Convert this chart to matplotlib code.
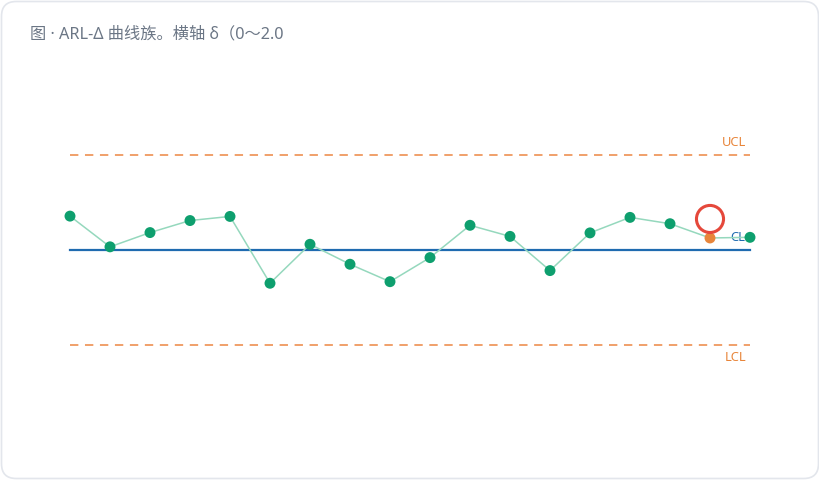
import matplotlib
matplotlib.use("Agg")
import matplotlib.pyplot as plt
from matplotlib.patches import FancyBboxPatch

plt.rcParams['font.family'] = ['Noto Sans', 'Noto Sans CJK SC', 'DejaVu Sans']

title = "图 · ARL-Δ 曲线族。横轴 δ（0～2.0"
values = [1.07, 0.10, 0.55, 0.93, 1.06, -1.05, 0.18, -0.45, -1.00, -0.24,
          0.78, 0.43, -0.65, 0.54, 1.03, 0.83, 0.38, 0.40]
cl, ucl, lcl = 0.0, 3.0, -3.0
flag_index = 16
limit_labels = ["UCL", "CL", "LCL"]

W, H = 820, 480
fig = plt.figure(figsize=(W / 100, H / 100), dpi=100)
fig.patch.set_facecolor("white")

card = FancyBboxPatch((1.5 / W, 1.5 / H), (W - 3) / W, (H - 3) / H,
                      boxstyle="round,pad=0,rounding_size=0.018",
                      transform=fig.transFigure, facecolor="white",
                      edgecolor="#e3e6ec", linewidth=1.2, mutation_aspect=W / H,
                      zorder=-10)
fig.patches.append(card)

fig.text(30 / W, 1 - 34 / H, title, fontsize=11.7, color="#6b7685",
         va="center", ha="left")

ax = fig.add_axes([0, 0, 1, 1])
ax.set_facecolor("none")
ax.set_zorder(5)
ax.axis("off")
sx = 40.0
sy = 31.67
ax.set_xlim(-70 / sx, (W - 70) / sx)
ax.set_ylim(-(H - 250) / sy, 250 / sy)

n = len(values)
xs = list(range(n))
x0, x1 = 0, n - 1

ax.plot([x0, x1], [ucl, ucl], color="#f0a06a", lw=1.4, dashes=(4.3, 3.4))
ax.plot([x0, x1], [lcl, lcl], color="#f0a06a", lw=1.4, dashes=(4.3, 3.4))
ax.plot([x0, x1], [cl, cl], color="#1f6bb0", lw=1.6, zorder=2)

ax.text(x1 - 0.1, ucl + 12 / sy, limit_labels[0], color="#e8853a", fontsize=9.3,
        ha="right", va="center")
ax.text(x1 - 0.1, lcl - 12 / sy, limit_labels[2], color="#e8853a", fontsize=9.3,
        ha="right", va="center")
ax.text(x1 - 0.5, values[-1], limit_labels[1], color="#1f6bb0", fontsize=9.3,
        ha="left", va="center", zorder=3)

ax.plot(xs, values, color="#95d8bd", lw=1.1, zorder=3)
colors = ["#e8853a" if i == flag_index else "#0e9f6e" for i in range(n)]
ax.scatter(xs, values, s=62, c=colors, zorder=4, linewidths=0)

ax.scatter([xs[flag_index]], [values[flag_index] + 19 / sy], s=380,
           facecolors="none", edgecolors="#e5483b", linewidths=2.2, zorder=5)

fig.savefig("out.png", dpi=100)
